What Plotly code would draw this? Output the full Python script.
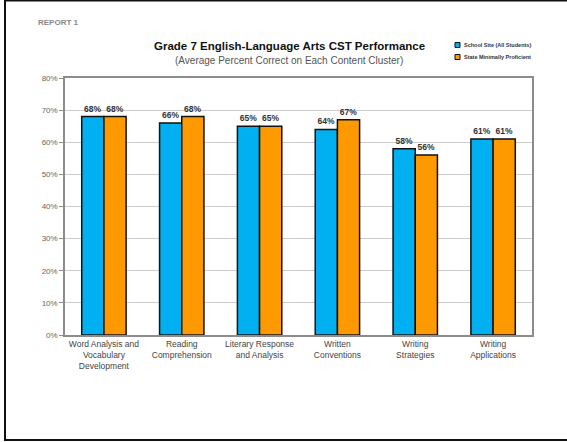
import plotly.graph_objects as go

categories = ["Word Analysis and<br>Vocabulary<br>Development", "Reading<br>Comprehension",
              "Literary Response<br>and Analysis", "Written<br>Conventions",
              "Writing<br>Strategies", "Writing<br>Applications"]
school_site = [68, 66, 65, 64, 58, 61]
state_min = [68, 68, 65, 67, 56, 61]
series_names = ["School Site (All Students)", "State Minimally Proficient"]
y_ticks = [0, 10, 20, 30, 40, 50, 60, 70, 80]
y_tick_labels = [f"{v}%" for v in y_ticks]

W, H = 567, 442
L, R, T, B = 65, 532, 78, 335
pw, ph = R - L, B - T

def px(x):
    return (x - L) / pw

def py(y):
    return (B - y) / ph

blue = "#00B0F0"
orange = "#FF9900"

fig = go.Figure()
for name, vals, col in [(series_names[0], school_site, blue), (series_names[1], state_min, orange)]:
    fig.add_trace(go.Bar(
        x=categories, y=vals, name=name, marker=dict(color=col, line=dict(color="#111", width=1.5)),
        text=[f"<b>{v}%</b>" for v in vals], textposition="outside", cliponaxis=False,
        textfont=dict(family="Arial", size=8.5, color="#333"), showlegend=False))

fig.update_layout(
    width=W, height=H, margin=dict(l=L, r=W - R, t=T, b=H - B, pad=0),
    paper_bgcolor="white", plot_bgcolor="white", barmode="group", bargap=0.43, bargroupgap=0,
    font=dict(family="Arial", color="#333"),
    xaxis=dict(showline=True, linecolor="#8c8c8c", linewidth=1.5, mirror=True, ticks="",
               tickfont=dict(size=8.5, color="#444"), showgrid=False),
    yaxis=dict(range=[0, 80], tickvals=y_ticks, ticktext=y_tick_labels, showgrid=True,
               gridcolor="#cccccc", gridwidth=1, showline=True, linecolor="#8c8c8c", linewidth=1.5,
               mirror=True, ticks="outside", ticklen=4, tickcolor="#8c8c8c",
               tickfont=dict(size=8, color="#666"), zeroline=False),
)

# outer frame
fig.add_shape(type="rect", xref="paper", yref="paper", x0=px(5), x1=px(575), y0=py(440), y1=py(0.5),
              line=dict(color="#111", width=2), layer="below")

ann = [
    dict(x=px(36), y=py(22), text="<b>REPORT 1</b>", font=dict(size=8, color="#888"), xanchor="left"),
    dict(x=px(289), y=py(46), text="<b>Grade 7 English-Language Arts CST Performance</b>",
         font=dict(size=11.5, color="#111")),
    dict(x=px(289), y=py(60), text="(Average Percent Correct on Each Content Cluster)",
         font=dict(size=10, color="#555")),
    dict(x=px(462), y=py(45), text="<b>" + series_names[0] + "</b>", font=dict(size=5.5, color="#333"), xanchor="left"),
    dict(x=px(462), y=py(57), text="<b>" + series_names[1] + "</b>", font=dict(size=5.5, color="#333"), xanchor="left"),
]
for a in ann:
    a.update(xref="paper", yref="paper", showarrow=False, yanchor="middle")
    a.setdefault("xanchor", "center")
    fig.add_annotation(**a)

for yy, col in [(45, blue), (57, orange)]:
    fig.add_shape(type="rect", xref="paper", yref="paper", x0=px(455), x1=px(460), y0=py(yy + 2.5), y1=py(yy - 2.5),
                  fillcolor=col, line=dict(color="#111", width=1))

fig.write_html("out.html")
